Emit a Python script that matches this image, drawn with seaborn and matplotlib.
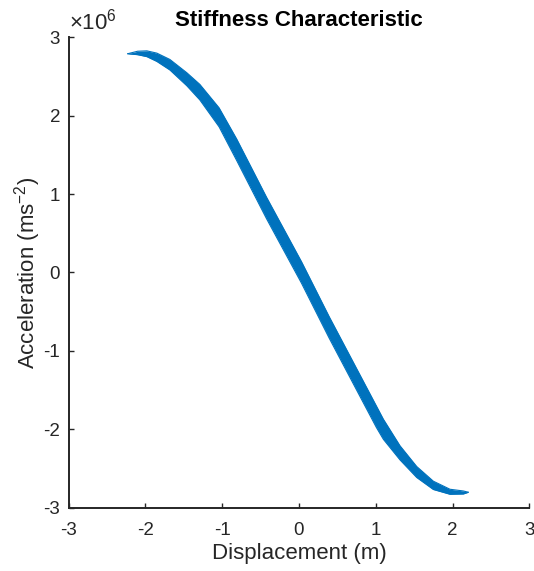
import numpy as np
import pandas as pd
import matplotlib
matplotlib.use("Agg")
import matplotlib.pyplot as plt
from matplotlib.ticker import FuncFormatter
import seaborn as sns

# Measured stiffness loop: displacement (m) against acceleration (x1e6 m/s^2),
# with the two sweeps of the loop sampled at the same displacements.
displacement = [-2.23, -2.10, -1.98, -1.85, -1.68, -1.46, -1.29, -1.04, -0.81,
                -0.42, 0.034, 0.394, 1.01, 1.10, 1.316, 1.534, 1.75, 1.967,
                2.141, 2.206]
accel_outer = [2.790, 2.822, 2.827, 2.798, 2.717, 2.548, 2.399, 2.101, 1.702,
               0.957, 0.137, -0.563, -1.705, -1.872, -2.210, -2.475, -2.662,
               -2.765, -2.787, -2.803]
accel_inner = [2.790, 2.778, 2.753, 2.692, 2.583, 2.382, 2.201, 1.859, 1.428,
               0.683, -0.137, -0.837, -1.979, -2.128, -2.390, -2.615, -2.768,
               -2.829, -2.825, -2.803]
SCALE = 1e6

x_ticks = [-3, -2, -1, 0, 1, 2, 3]
y_ticks = [-3e6, -2e6, -1e6, 0, 1e6, 2e6, 3e6]

sns.set_theme(style="ticks")
plt.rcParams["font.family"] = ["Liberation Sans", "DejaVu Sans"]
plt.rcParams["mathtext.fontset"] = "custom"
plt.rcParams["mathtext.rm"] = "Liberation Sans"
plt.rcParams["mathtext.it"] = "Liberation Sans:italic"
plt.rcParams["axes.unicode_minus"] = False

TXT = "#262626"
BLUE = "#0072BD"

loop = pd.DataFrame({
    "disp": displacement + displacement[::-1],
    "accel": [a * SCALE for a in accel_outer + accel_inner[::-1]],
    "sweep": ["outer"] * len(displacement) + ["inner"] * len(displacement),
})

fig = plt.figure(figsize=(5.34, 5.71), dpi=100)
ax = fig.add_axes([0.1283, 0.1109, 0.8629, 0.8238])

ax.fill_between(displacement,
                [a * SCALE for a in accel_inner],
                [a * SCALE for a in accel_outer],
                color=BLUE, lw=0)
sns.lineplot(data=loop, x="disp", y="accel", units="sweep", estimator=None,
             sort=False, color=BLUE, lw=0.8, ax=ax, legend=False)

ax.set_xlim(-3, 3)
ax.set_ylim(-3e6, 3e6)
ax.set_xticks(x_ticks)
ax.set_yticks(y_ticks)
ax.yaxis.set_major_formatter(FuncFormatter(lambda v, _: f"{v / SCALE:g}"))
ax.text(0.0, 1.005, r"$\times$10$^{6}$", transform=ax.transAxes,
        ha="left", va="bottom", fontsize=16, color=TXT)

for side in ("top", "right"):
    ax.spines[side].set_visible(False)
for side in ("left", "bottom"):
    ax.spines[side].set_color(TXT)
    ax.spines[side].set_linewidth(1.4)

ax.tick_params(direction="in", length=3.5, width=1.0, colors=TXT,
               labelsize=13.5)
ax.tick_params(axis="x", pad=10)
ax.tick_params(axis="y", pad=6)

ax.set_xlabel("Displacement (m)", fontsize=16, color=TXT, labelpad=3)
ax.set_ylabel("Acceleration (ms$^{-2}$)", fontsize=16, color=TXT, labelpad=0)
ax.set_title("Stiffness Characteristic", fontsize=16, fontweight="bold",
             color="black", pad=8)

fig.savefig("out.png", dpi=100, facecolor="white")
